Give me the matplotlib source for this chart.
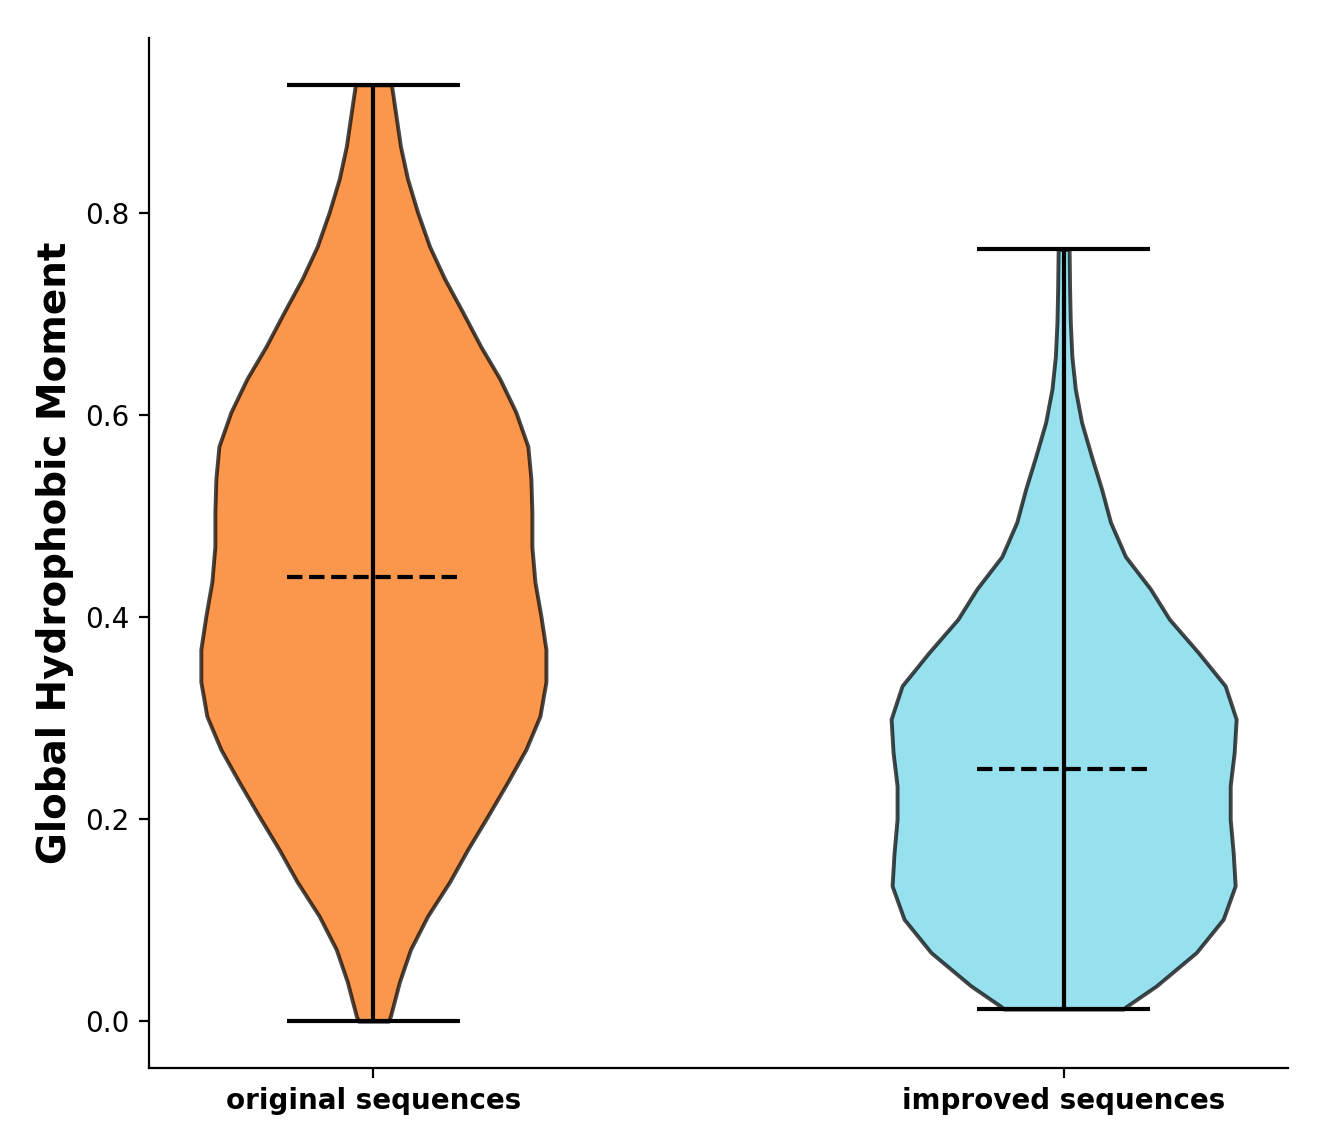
import matplotlib
matplotlib.use("Agg")
import matplotlib.pyplot as plt
import numpy as np

# groups and summary values
groups = ["original sequences", "improved sequences"]
mins = [0.0, 0.012]
maxs = [0.927, 0.764]
medians = [0.44, 0.25]

# density profile (y value, relative half width) for each violin
orig_y = [0.0, 0.005, 0.039, 0.071, 0.104, 0.138, 0.170, 0.203, 0.237, 0.269,
          0.302, 0.336, 0.368, 0.401, 0.435, 0.470, 0.504, 0.537, 0.569, 0.603,
          0.636, 0.668, 0.702, 0.735, 0.767, 0.801, 0.834, 0.866, 0.900, 0.927]
orig_d = [15, 17, 26, 37, 54, 76, 94, 114, 134, 152,
          166, 172, 172, 167, 161, 158, 158, 157, 154, 142,
          126, 107, 89, 71, 56, 44, 34, 27, 22, 18]
impr_y = [0.012, 0.014, 0.035, 0.068, 0.101, 0.134, 0.167, 0.200, 0.233, 0.266,
          0.299, 0.332, 0.365, 0.398, 0.428, 0.460, 0.494, 0.527, 0.559, 0.593,
          0.626, 0.658, 0.692, 0.725, 0.764]
impr_d = [60, 62, 93, 133, 160, 172, 170, 167, 167, 171,
          173, 162, 135, 106, 87, 62, 47, 38, 28, 18,
          11.7, 8.3, 6.7, 6, 5.5]

colors = ["#FA974C", "#97E0EE"]

stats = []
for y, d, lo, hi, med in zip([orig_y, impr_y], [orig_d, impr_d], mins, maxs, medians):
    stats.append({"coords": np.array(y), "vals": np.array(d, dtype=float),
                  "min": lo, "max": hi, "median": med, "mean": med})

fig = plt.figure(figsize=(6.72, 5.72), dpi=200)
ax = fig.add_axes([0.1109, 0.0664, 0.8474, 0.9004])

parts = ax.violin(stats, positions=[1, 2], widths=0.5,
                  showmeans=False, showextrema=True, showmedians=True)

for body, c in zip(parts["bodies"], colors):
    body.set_alpha(None)
    body.set_facecolor(c)
    body.set_edgecolor((0, 0, 0, 0.72))
    body.set_linewidth(1.4)

for key in ["cmins", "cmaxes", "cbars", "cmedians"]:
    parts[key].set_color("black")
    parts[key].set_linewidth(1.5)
parts["cmedians"].set_linestyle("--")

ax.set_xticks([1, 2])
ax.set_xticklabels(groups, fontsize=10, fontweight="bold")
ax.tick_params(axis="y", labelsize=10)
ax.set_ylabel("Global Hydrophobic Moment", fontsize=14, fontweight="bold")
ax.spines["top"].set_visible(False)
ax.spines["right"].set_visible(False)

fig.savefig("out.png", dpi=200)
